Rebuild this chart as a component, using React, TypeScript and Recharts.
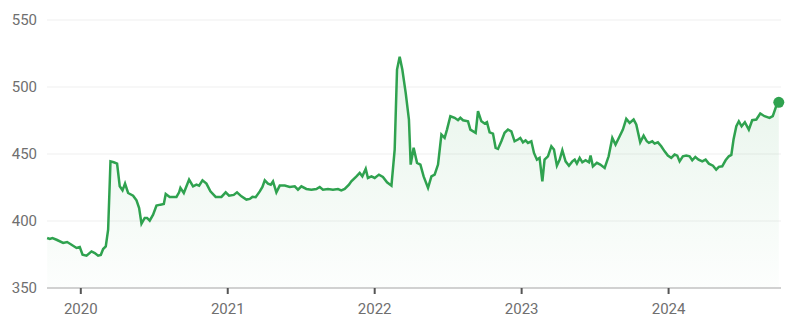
import React from "react";
import { AreaChart, Area, XAxis, YAxis, CartesianGrid } from "recharts";

// Time in decimal years
const times: number[] = [
  2019.771, 2019.789, 2019.807, 2019.835, 2019.88, 2019.907, 2019.937, 2019.971, 2019.993,
  2020.012, 2020.039, 2020.073, 2020.095, 2020.118, 2020.136, 2020.152, 2020.17, 2020.186,
  2020.202, 2020.224, 2020.247, 2020.265, 2020.284, 2020.301, 2020.322, 2020.356, 2020.379,
  2020.397, 2020.413, 2020.435, 2020.451, 2020.469, 2020.492, 2020.515, 2020.542, 2020.565,
  2020.578, 2020.605, 2020.651, 2020.669, 2020.678, 2020.701, 2020.737, 2020.764, 2020.787,
  2020.805, 2020.828, 2020.855, 2020.882, 2020.918, 2020.957, 2020.986, 2021.009, 2021.041,
  2021.063, 2021.093, 2021.127, 2021.15, 2021.168, 2021.19, 2021.218, 2021.236, 2021.252,
  2021.274, 2021.293, 2021.308, 2021.331, 2021.354, 2021.388, 2021.422, 2021.456, 2021.478,
  2021.501, 2021.535, 2021.569, 2021.603, 2021.626, 2021.648, 2021.682, 2021.716, 2021.75,
  2021.773, 2021.796, 2021.825, 2021.841, 2021.876, 2021.898, 2021.916, 2021.939, 2021.954,
  2021.978, 2022.0, 2022.029, 2022.056, 2022.084, 2022.114, 2022.136, 2022.152, 2022.17,
  2022.188, 2022.211, 2022.233, 2022.245, 2022.265, 2022.288, 2022.311, 2022.333, 2022.363,
  2022.386, 2022.408, 2022.431, 2022.454, 2022.476, 2022.492, 2022.515, 2022.544, 2022.567,
  2022.583, 2022.601, 2022.635, 2022.651, 2022.687, 2022.703, 2022.726, 2022.748, 2022.764,
  2022.782, 2022.805, 2022.823, 2022.839, 2022.862, 2022.884, 2022.907, 2022.93, 2022.952,
  2022.975, 2022.991, 2023.009, 2023.027, 2023.043, 2023.066, 2023.084, 2023.104, 2023.122,
  2023.141, 2023.156, 2023.179, 2023.202, 2023.22, 2023.24, 2023.259, 2023.277, 2023.299,
  2023.322, 2023.345, 2023.361, 2023.376, 2023.395, 2023.413, 2023.435, 2023.458, 2023.469,
  2023.485, 2023.512, 2023.535, 2023.565, 2023.592, 2023.617, 2023.639, 2023.667, 2023.689,
  2023.712, 2023.735, 2023.762, 2023.78, 2023.807, 2023.83, 2023.852, 2023.866, 2023.889,
  2023.905, 2023.927, 2023.95, 2023.973, 2023.995, 2024.018, 2024.041, 2024.059, 2024.075,
  2024.097, 2024.12, 2024.143, 2024.161, 2024.182, 2024.204, 2024.229, 2024.252, 2024.274,
  2024.302, 2024.324, 2024.342, 2024.365, 2024.388, 2024.41, 2024.427, 2024.442, 2024.461,
  2024.478, 2024.497, 2024.519, 2024.546, 2024.569, 2024.597, 2024.624, 2024.653, 2024.687,
  2024.709, 2024.732, 2024.75,
];

// Price values
const prices: number[] = [
  387.3, 386.6, 387.3, 386.0, 383.6, 384.3, 382.3, 379.9, 380.6,
  374.9, 374.1, 377.3, 376.1, 374.1, 374.6, 379.1, 381.0, 393.5,
  444.5, 443.8, 442.8, 425.9, 422.9, 427.9, 420.9, 418.9, 415.4,
  409.7, 398.0, 402.3, 402.3, 400.3, 404.7, 411.5, 412.2, 412.7,
  420.2, 418.0, 418.0, 421.4, 424.7, 420.9, 430.9, 425.9, 427.1,
  426.4, 430.4, 427.9, 422.1, 418.0, 418.0, 421.4, 418.9, 419.5,
  421.4, 418.4, 416.0, 416.5, 418.0, 417.7, 422.1, 425.4, 430.4,
  427.9, 427.1, 429.6, 421.4, 426.4, 426.4, 425.4, 425.9, 423.4,
  425.9, 423.9, 423.4, 423.9, 425.4, 423.4, 423.9, 423.4, 423.9,
  422.9, 423.9, 427.1, 429.6, 433.3, 435.9, 433.3, 438.9, 432.1,
  433.3, 432.1, 434.6, 432.9, 428.9, 426.4, 453.3, 513.0, 522.5,
  513.0, 495.6, 475.7, 442.1, 454.6, 443.4, 442.1, 433.3, 424.7,
  433.3, 434.6, 442.1, 464.5, 462.0, 468.2, 478.2, 477.0, 475.2,
  477.0, 475.2, 474.4, 468.2, 465.8, 481.9, 474.4, 472.7, 473.7,
  466.2, 465.2, 454.6, 453.8, 459.5, 465.8, 468.2, 466.9, 459.5,
  460.8, 462.0, 458.7, 460.2, 458.3, 459.5, 450.8, 445.8, 447.1,
  429.6, 445.8, 448.3, 455.8, 453.3, 441.3, 445.8, 452.8, 444.5,
  441.3, 444.5, 445.8, 442.8, 447.1, 443.8, 445.3, 443.8, 448.8,
  440.8, 443.4, 442.1, 439.6, 448.3, 462.0, 457.0, 463.2, 468.2,
  476.2, 473.2, 475.7, 472.0, 458.7, 463.7, 459.5, 458.3, 459.5,
  457.8, 458.7, 455.8, 452.0, 448.8, 447.1, 449.6, 448.8, 444.5,
  448.3, 448.8, 448.3, 445.3, 447.8, 445.8, 444.5, 445.8, 442.8,
  441.3, 438.3, 440.4, 440.8, 445.3, 448.3, 449.3, 460.8, 470.7,
  474.4, 470.7, 473.7, 468.2, 475.2, 475.7, 480.2, 478.2, 477.0,
  478.2, 485.6, 488.6,
];

const xTicks: number[] = [2020, 2021, 2022, 2023, 2024];
const yTicks: number[] = [350, 400, 450, 500, 550];
const xDomain: [number, number] = [2019.77, 2024.765];
const yDomain: [number, number] = [350, 550];

const data = times.map((t, i) => ({ t, v: prices[i] }));
const lastIndex = data.length - 1;

const GREEN = "#2fa24f";
const tickStyle = { fontFamily: "Roboto, sans-serif", fontSize: 15, fill: "#6f6f6f" };

const EndDot = (props: any) => {
  const { cx, cy, index } = props;
  if (index !== lastIndex || cx == null || cy == null) return <g key={`d${index}`} />;
  return <circle key={`d${index}`} cx={cx} cy={cy} r={5.5} fill={GREEN} stroke="none" />;
};

export default function App() {
  return (
    <div style={{ position: "absolute", left: 0, top: 0, background: "#fff" }}>
      <AreaChart
        width={800}
        height={324}
        data={data}
        margin={{ top: 20, right: 19, bottom: 0, left: 0 }}
      >
        <defs>
          <linearGradient id="fillGreen" x1="0" y1="0" x2="0" y2="1">
            <stop offset="0%" stopColor={GREEN} stopOpacity={0.2} />
            <stop offset="100%" stopColor={GREEN} stopOpacity={0.02} />
          </linearGradient>
        </defs>
        <CartesianGrid vertical={false} stroke="#efefef" strokeWidth={1} />
        <XAxis
          dataKey="t"
          type="number"
          domain={xDomain}
          ticks={xTicks}
          height={36}
          tick={tickStyle}
          tickSize={6}
          tickMargin={9}
          tickLine={{ stroke: "#555", strokeWidth: 2 }}
          axisLine={{ stroke: "#c4c4c4", strokeWidth: 1.5 }}
        />
        <YAxis
          type="number"
          domain={yDomain}
          ticks={yTicks}
          width={47}
          tick={tickStyle}
          tickLine={false}
          axisLine={false}
          tickMargin={4}
        />
        <Area
          type="linear"
          dataKey="v"
          stroke={GREEN}
          strokeWidth={2.5}
          fill="url(#fillGreen)"
          dot={EndDot}
          activeDot={false}
          isAnimationActive={false}
        />
      </AreaChart>
    </div>
  );
}
